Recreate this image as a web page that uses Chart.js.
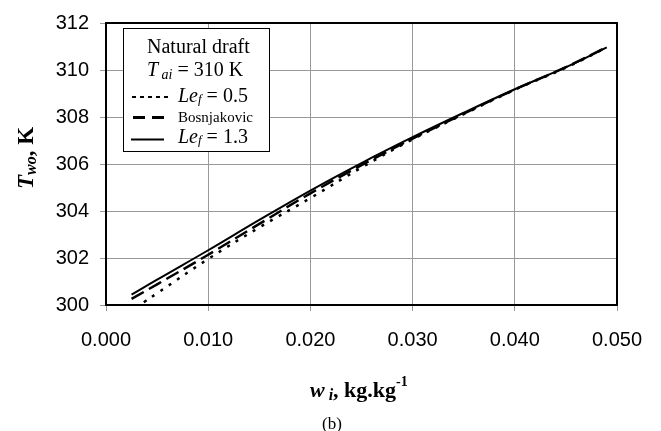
<!DOCTYPE html>
<html>
<head>
<meta charset="utf-8">
<script src="https://cdn.jsdelivr.net/npm/chart.js@4"></script>
<style>
  html, body { margin: 0; padding: 0; background: #fff; }
  #grafico { display: block; }
</style>
</head>
<body>
<canvas id="grafico" width="661" height="431"></canvas>
<script>
// humedad de entrada w_i (kg/kg) y temperatura de salida del agua T_wo (K)
const wLe05 = [0.0037, 0.005, 0.010, 0.015, 0.020, 0.025, 0.030, 0.035, 0.040, 0.045, 0.049];
const tLe05 = [300.12, 300.50, 301.96, 303.30, 304.55, 305.85, 307.05, 308.12, 309.16, 310.10, 310.96];

const wBosn = [0.0025, 0.005, 0.010, 0.015, 0.020, 0.025, 0.030, 0.035, 0.040, 0.045, 0.049];
const tBosn = [300.26, 300.88, 302.14, 303.45, 304.75, 305.95, 307.08, 308.14, 309.17, 310.12, 310.98];

const wLe13 = [0.0025, 0.005, 0.010, 0.015, 0.020, 0.025, 0.030, 0.035, 0.040, 0.045, 0.049];
const tLe13 = [300.44, 301.08, 302.33, 303.62, 304.87, 306.04, 307.14, 308.18, 309.18, 310.12, 310.96];

const xTicks = [0.000, 0.010, 0.020, 0.030, 0.040, 0.050];
const yTicks = [300, 302, 304, 306, 308, 310, 312];

const puntos = (xs, ys) => xs.map((x, i) => ({ x, y: ys[i] }));

const SERIF = '"Liberation Serif", "Times New Roman", serif';

// dibuja un texto con partes (normal, cursiva, subíndice...) y devuelve el ancho
function textoMixto(ctx, partes, x, y) {
    let cx = x;
    partes.forEach(p => {
        ctx.font = p.font;
        ctx.fillText(p.t, cx, y + (p.dy || 0));
        cx += ctx.measureText(p.t).width;
    });
    return cx - x;
}

function anchoMixto(ctx, partes) {
    let w = 0;
    partes.forEach(p => { ctx.font = p.font; w += ctx.measureText(p.t).width; });
    return w;
}

const extras = {
    id: "extras",
    afterDatasetsDraw(chart) {
        const { ctx, chartArea: a } = chart;
        ctx.save();
        // marco negro del área
        ctx.strokeStyle = "#000";
        ctx.lineWidth = 2;
        ctx.strokeRect(a.left, a.top, a.right - a.left, a.bottom - a.top);

        // caja de leyenda
        const bx = 123, by = 28, bw = 146, bh = 123;
        ctx.fillStyle = "#fff";
        ctx.fillRect(bx, by, bw, bh);
        ctx.lineWidth = 1;
        ctx.strokeStyle = "#000";
        ctx.strokeRect(bx + 0.5, by + 0.5, bw, bh);

        ctx.fillStyle = "#000";
        ctx.textBaseline = "alphabetic";
        ctx.textAlign = "left";
        ctx.font = `20px ${SERIF}`;
        ctx.fillText("Natural draft", 147, 53);

        textoMixto(ctx, [
            { t: "T", font: `italic 20px ${SERIF}` },
            { t: " ai", font: `italic 14px ${SERIF}`, dy: 3 },
            { t: " = 310 K", font: `20px ${SERIF}` }
        ], 147, 76);

        const lef = v => [
            { t: "Le", font: `italic 20px ${SERIF}` },
            { t: "f", font: `italic 13px ${SERIF}`, dy: 1 },
            { t: " = " + v, font: `20px ${SERIF}` }
        ];
        textoMixto(ctx, lef("0.5"), 178, 102);
        ctx.font = `15px ${SERIF}`;
        ctx.fillText("Bosnjakovic", 178, 122);
        textoMixto(ctx, lef("1.3"), 178, 143);

        // muestras de línea
        ctx.strokeStyle = "#000";
        ctx.lineWidth = 2;
        ctx.setLineDash([4, 4]);
        ctx.beginPath(); ctx.moveTo(132, 97); ctx.lineTo(169, 97); ctx.stroke();
        ctx.lineWidth = 3;
        ctx.setLineDash([12, 7]);
        ctx.beginPath(); ctx.moveTo(133, 117.5); ctx.lineTo(165, 117.5); ctx.stroke();
        ctx.lineWidth = 2;
        ctx.setLineDash([]);
        ctx.beginPath(); ctx.moveTo(131, 139.5); ctx.lineTo(164, 139.5); ctx.stroke();

        // título eje x
        const tx = [
            { t: "w", font: `bold italic 22px ${SERIF}` },
            { t: " i", font: `bold italic 16px ${SERIF}`, dy: 3 },
            { t: ", kg.kg", font: `bold 22px ${SERIF}` },
            { t: "-1", font: `bold 14px ${SERIF}`, dy: -11 }
        ];
        textoMixto(ctx, tx, 310, 397);

        ctx.font = `17px ${SERIF}`;
        ctx.textAlign = "center";
        ctx.fillText("(b)", 332, 429);

        // título eje y (rotado)
        const ty = [
            { t: "T", font: `bold italic 23px ${SERIF}` },
            { t: "wo", font: `bold italic 16px ${SERIF}`, dy: 3 },
            { t: ", K", font: `bold 23px ${SERIF}` }
        ];
        ctx.textAlign = "left";
        ctx.translate(33, 158);
        ctx.rotate(-Math.PI / 2);
        textoMixto(ctx, ty, -anchoMixto(ctx, ty) / 2, 0);
        ctx.restore();
    }
};

const ctx = document.getElementById("grafico").getContext("2d");

new Chart(ctx, {
    type: "scatter",
    data: {
        datasets: [
            {
                label: "Lef = 0.5",
                data: puntos(wLe05, tLe05),
                showLine: true,
                borderColor: "#000",
                borderWidth: 2.5,
                borderDash: [3, 7],
                pointRadius: 0,
                tension: 0.4
            },
            {
                label: "Bosnjakovic",
                data: puntos(wBosn, tBosn),
                showLine: true,
                borderColor: "#000",
                borderWidth: 2.5,
                borderDash: [14, 6],
                pointRadius: 0,
                tension: 0.4
            },
            {
                label: "Lef = 1.3",
                data: puntos(wLe13, tLe13),
                showLine: true,
                borderColor: "#000",
                borderWidth: 2,
                pointRadius: 0,
                tension: 0.4
            }
        ]
    },
    options: {
        responsive: false,
        devicePixelRatio: 1,
        animation: false,
        layout: { padding: { left: 0, top: 19, right: 44, bottom: 0 } },
        scales: {
            x: {
                type: "linear",
                min: 0,
                max: 0.05,
                afterFit: s => { s.height = 126; },
                afterBuildTicks: s => { s.ticks = xTicks.map(v => ({ value: v })); },
                ticks: {
                    color: "#000",
                    font: { family: '"Liberation Sans", Arial, sans-serif', size: 20 },
                    padding: 17,
                    callback: v => v.toFixed(3)
                },
                grid: { color: "#999", lineWidth: 1, tickLength: 6, tickColor: "#999" },
                border: { display: false }
            },
            y: {
                min: 300,
                max: 312,
                afterFit: s => { s.width = 106; },
                afterBuildTicks: s => { s.ticks = yTicks.map(v => ({ value: v })); },
                ticks: {
                    color: "#000",
                    font: { family: '"Liberation Sans", Arial, sans-serif', size: 20 },
                    padding: 11,
                    callback: v => String(v)
                },
                grid: { color: "#999", lineWidth: 1, tickLength: 6, tickColor: "#999" },
                border: { display: false }
            }
        },
        plugins: {
            legend: { display: false },
            tooltip: { enabled: false }
        }
    },
    plugins: [extras]
});
</script>
</body>
</html>
